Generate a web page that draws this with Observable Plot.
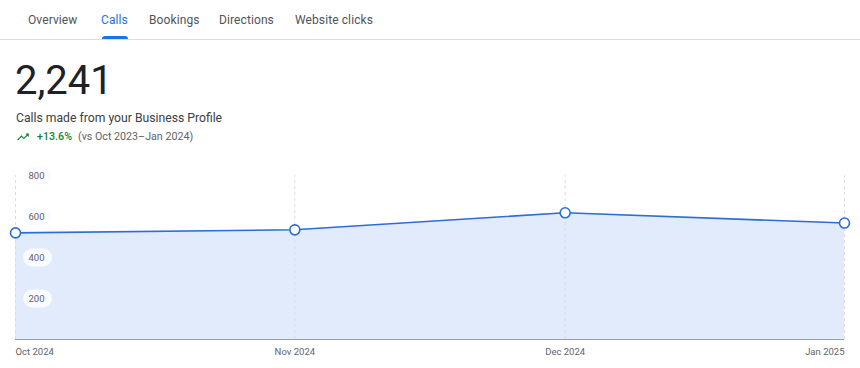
<!DOCTYPE html>
<html>
<head>
<meta charset="utf-8">
<script src="https://cdn.jsdelivr.net/npm/d3@7"></script>
<script src="https://cdn.jsdelivr.net/npm/@observablehq/plot@0.6"></script>
<style>
  html, body { margin: 0; padding: 0; background: #fff; }
  body { width: 860px; height: 368px; position: relative; overflow: hidden; font-family: Roboto, "Noto Sans", sans-serif; }
  #tabs { position: absolute; left: 0; top: 0; width: 860px; height: 39px; border-bottom: 1px solid #dadce0; }
  .tab { position: absolute; top: 12px; font-size: 12px; letter-spacing: 0.1px; color: #4f5358; white-space: nowrap; line-height: 16px; }
  .tab.active { color: #1a73e8; }
  .underline { position: absolute; top: 36px; height: 3px; background: #1a73e8; border-radius: 3px 3px 0 0; }
  #total { position: absolute; left: 15px; top: 57px; font-size: 40px; font-weight: 400; line-height: 48px; color: #202124; }
  #desc { position: absolute; left: 16px; top: 110px; font-size: 12.2px; line-height: 16px; color: #3c4043; }
  #change { position: absolute; left: 16px; top: 129px; font-size: 10.7px; line-height: 16px; color: #5f6368; display: flex; align-items: center; white-space: nowrap; }
  #change .pct { color: #188038; font-weight: 500; margin-left: 7px; margin-right: 6px; }
  #chart { position: absolute; left: 0; top: 160px; }
</style>
</head>
<body>
<div id="tabs"></div>
<div id="total"></div>
<div id="desc"></div>
<div id="change"></div>
<div id="chart"></div>
<script>
// ---- data ----
const tabs = ["Overview", "Calls", "Bookings", "Directions", "Website clicks"];
const activeTab = "Calls";
const totalCalls = "2,241";
const description = "Calls made from your Business Profile";
const changePct = "+13.6%";
const comparison = "(vs Oct 2023\u2013Jan 2024)";
const months = ["2024-10-01", "2024-11-01", "2024-12-01", "2025-01-01"];
const calls = [520, 535, 618, 568];
const monthLabels = ["Oct 2024", "Nov 2024", "Dec 2024", "Jan 2025"];
const yTicks = [200, 400, 600, 800];

// ---- header ----
const tabLeft = [28, 101, 149, 219, 295];
const tabsEl = document.getElementById("tabs");
tabs.forEach((t, i) => {
  const s = document.createElement("span");
  s.className = "tab" + (t === activeTab ? " active" : "");
  s.textContent = t;
  s.style.left = tabLeft[i] + "px";
  tabsEl.appendChild(s);
  if (t === activeTab) {
    const u = document.createElement("div");
    u.className = "underline";
    tabsEl.appendChild(u);
    const w = s.getBoundingClientRect().width;
    u.style.left = (tabLeft[i] + 1) + "px";
    u.style.width = (w - 1) + "px";
  }
});
document.getElementById("total").textContent = totalCalls;
document.getElementById("desc").textContent = description;
document.getElementById("change").innerHTML =
  '<svg width="14" height="14" viewBox="0 0 24 24"><path fill="#188038" d="M16 6l2.29 2.29-4.88 4.88-4-4L2 16.59 3.41 18l6-6 4 4 6.3-6.29L22 12V6z"/></svg>' +
  '<span class="pct"></span><span class="cmp"></span>';
document.querySelector("#change .pct").textContent = changePct;
document.querySelector("#change .cmp").textContent = comparison;

// ---- chart ----
const parse = d3.utcParse("%Y-%m-%d");
const data = months.map((m, i) => ({date: parse(m), value: calls[i], label: monthLabels[i]}));
const x0 = data[0].date;
const last = data.length - 1;

const pill = {
  draw(ctx) {
    const w = 29, h = 18, r = 9;
    ctx.moveTo(-w / 2 + r, -h / 2);
    ctx.lineTo(w / 2 - r, -h / 2);
    ctx.arc(w / 2 - r, 0, r, -Math.PI / 2, Math.PI / 2);
    ctx.lineTo(-w / 2 + r, h / 2);
    ctx.arc(-w / 2 + r, 0, r, Math.PI / 2, 3 * Math.PI / 2);
    ctx.closePath();
  }
};

const chart = Plot.plot({
  width: 860,
  height: 208,
  marginLeft: 15,
  marginRight: 16,
  marginTop: 15,
  marginBottom: 29,
  style: {fontFamily: "Roboto, sans-serif", fontSize: "9.5px", overflow: "visible"},
  x: {type: "utc", domain: [data[0].date, data[last].date], axis: null},
  y: {domain: [0, 800], axis: null},
  marks: [
    Plot.areaY(data, {x: "date", y: "value", fill: "#e2ebfc"}),
    Plot.ruleX(data, {x: "date", y1: 0, y2: 800, stroke: "#dadce0", strokeDasharray: "3,3", strokeWidth: 1}),
    Plot.ruleY([0], {stroke: "#9aa0a6", strokeWidth: 1}),
    Plot.dot(yTicks, {x: () => x0, y: d => d, dx: 22, symbol: pill, r: 1, fill: "#f9fbfe", stroke: "none"}),
    Plot.text(yTicks, {x: () => x0, y: d => d, dx: 21, text: d => String(d), fill: "#5f6368", textAnchor: "middle"}),
    Plot.line(data, {x: "date", y: "value", stroke: "#2b6fd6", strokeWidth: 1.6}),
    Plot.dot(data, {x: "date", y: "value", r: 5, fill: "#fff", stroke: "#2b6fd6", strokeWidth: 1.6}),
    Plot.text([data[0]], {x: "date", y: () => 0, dy: 12, text: "label", textAnchor: "start", fill: "#5f6368"}),
    Plot.text(data.slice(1, last), {x: "date", y: () => 0, dy: 12, text: "label", textAnchor: "middle", fill: "#5f6368"}),
    Plot.text([data[last]], {x: "date", y: () => 0, dy: 12, text: "label", textAnchor: "end", fill: "#5f6368"})
  ]
});
document.getElementById("chart").appendChild(chart);
</script>
</body>
</html>
